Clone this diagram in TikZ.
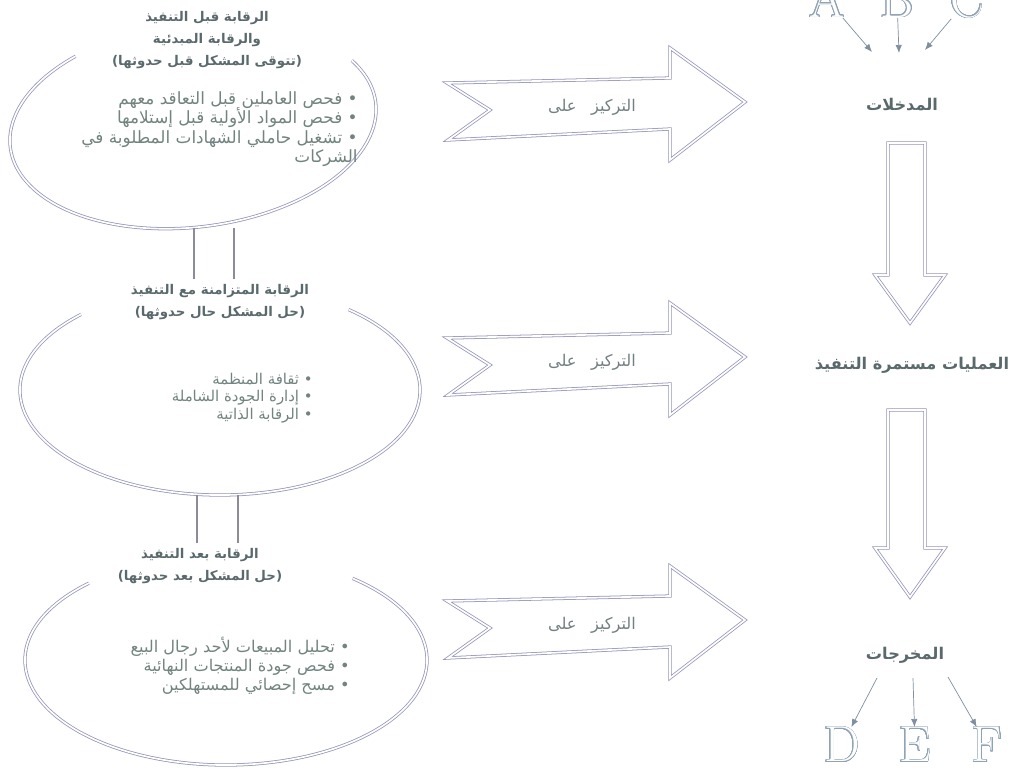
\documentclass[tikz,border=0pt]{standalone}
\usepackage{fontspec}
\usepackage{contour}
\newfontfamily\arabicfont[Script=Arabic]{DejaVu Sans}
\TeXXeTstate=1
\usetikzlibrary{arrows.meta, positioning}
\definecolor{cline}{HTML}{9494BC}
\definecolor{clink}{HTML}{8C8C98}
\definecolor{ctext}{HTML}{5A6A6C}
\definecolor{cbody}{HTML}{71847F}
\definecolor{cletter}{HTML}{8FA3B5}
\definecolor{ctip}{HTML}{7F8FA0}
\newcommand{\ar}[1]{\beginR #1\endR}
\newcommand{\bodyfont}[1]{\arabicfont\fontsize{#1}{#1}\selectfont\lineskiplimit=-20pt\relax\baselineskip=1.16\baselineskip\relax}
\contourlength{0.45pt}
\contournumber{24}
\tikzset{
  every picture/.style={line width=0.5pt},
  ring/.style={draw=cline, double=white, double distance=1.2pt, line width=0.55pt},
  blockarrow/.style={ring, line join=miter},
  link/.style={draw=clink, line width=1.2pt},
  title/.style={font=\arabicfont\bfseries\fontsize{9.5}{15.5}\selectfont, text=ctext, align=center},
  body/.style={font=\bodyfont{#1}, text=cbody, align=right, inner sep=0pt},
  body/.default=11,
  focus/.style={font=\arabicfont\fontsize{11.5}{13}\selectfont, text=ctext!85},
  stage/.style={font=\arabicfont\bfseries\fontsize{11.5}{13}\selectfont, text=ctext},
  letter/.style={font=\fontsize{36}{40}\selectfont, inner sep=0pt},
  thinarrow/.style={-{Latex[length=2mm, width=1.6mm]}, draw=ctip, line width=0.5pt},
}
\newcommand{\hollow}[1]{\contour{cletter}{\textcolor{white}{#1}}}

\begin{document}
\begin{tikzpicture}[x=0.025cm, y=-0.025cm]
  \useasboundingbox (0,0) rectangle (1013,771);
  % the three open ellipses
  \coordinate (e1) at (193,125);
  \coordinate (e2) at (220,390);
  \coordinate (e3) at (226,660);
  \draw[ring, rotate around={7:(e1)}] ([shift={(26:4.6cm and 2.55cm)}]e1) arc[start angle=26, end angle=-234, x radius=4.6cm, y radius=2.55cm];
  \draw[ring] ([shift={(50:5cm and 2.625cm)}]e2) arc[start angle=50, end angle=-226, x radius=5cm, y radius=2.625cm];
  \draw[ring] ([shift={(51:5.025cm and 2.625cm)}]e3) arc[start angle=51, end angle=-227, x radius=5.025cm, y radius=2.625cm];
  % titles
  \node[title] (t1) at (207,40) {\ar{الرقابة قبل التنفيذ}\\\ar{والرقابة المبدئية}\\\ar{(تتوقى المشكل قبل حدوثها)}};
  \node[title] (t2) at (220,302) {\ar{الرقابة المتزامنة مع التنفيذ}\\\ar{(حل المشكل حال حدوثها)}};
  \node[title] (t3) at (200,566) {\ar{الرقابة بعد التنفيذ}\\\ar{(حل المشكل بعد حدوثها)}};
  % bullet lists
  \node[body=12, anchor=north east] (b1) at (358,91) {\ar{• فحص العاملين قبل التعاقد معهم}\\\ar{• فحص المواد الأولية قبل إستلامها}\\\ar{• تشغيل حاملي الشهادات المطلوبة في}\\\ar{الشركات}};
  \node[body=10.6, anchor=north east] (b2) at (313,373) {\ar{• ثقافة المنظمة}\\\ar{• إدارة الجودة الشاملة}\\\ar{• الرقابة الذاتية}};
  \node[body=11.5, anchor=north east] (b3) at (350,637) {\ar{• تحليل المبيعات لأحد رجال البيع}\\\ar{• فحص جودة المنتجات النهائية}\\\ar{• مسح إحصائي للمستهلكين}};
  % double links between the ellipses
  \coordinate (k1) at (194,228);
  \coordinate (k2) at (234,228);
  \coordinate (k3) at (197,495);
  \coordinate (k4) at (238,495);
  \draw[link] (k1) -- (k1 |- t2.north);
  \draw[link] (k2) -- (k2 |- t2.north);
  \draw[link] (k3) -- (k3 |- t3.north);
  \draw[link] (k4) -- (k4 |- t3.north);
  % "focus on" arrows
  \foreach \dy/\nm in {0/f1, 255/f2, 518/f3} {
    \draw[blockarrow] (447,83+\dy) -- (670,78+\dy) -- (670,48+\dy) -- (745,102+\dy) -- (670,160+\dy) -- (670,129+\dy) -- (448,140+\dy) -- (490,110+\dy) -- cycle;
    \node[focus] (\nm) at (592,107+\dy) {\ar{التركيز\hspace{0.9em}على}};
  }
  % right column
  \node[stage] (in) at (902,105) {\ar{المدخلات}};
  \node[stage] (proc) at (912,365) {\ar{العمليات مستمرة التنفيذ}};
  \node[stage] (out) at (905,655) {\ar{المخرجات}};
  \draw[blockarrow] (888,143) -- (888,275) -- (875,275) -- (910,323) -- (945,275) -- (925,275) -- (925,143) -- cycle;
  \draw[blockarrow] (888,410) -- (888,548) -- (875,548) -- (910,597) -- (945,548) -- (925,548) -- (925,410) -- cycle;
  % inputs
  \node[letter, anchor=base] (A) at (827,17) {\hollow{A}};
  \node[letter, anchor=base] (B) at (897,17) {\hollow{B}};
  \node[letter, anchor=base] (C) at (967,17) {\hollow{C}};
  \coordinate (a1) at (872,52);
  \coordinate (a2) at (899,53);
  \coordinate (a3) at (925,50);
  \draw[thinarrow] (A) -- (a1);
  \draw[thinarrow] (B) -- (a2);
  \draw[thinarrow] (C) -- (a3);
  % outputs
  \node[letter, anchor=north] (D) at (842,727) {\hollow{D}};
  \node[letter, anchor=north] (E) at (915,727) {\hollow{E}};
  \node[letter, anchor=north] (F) at (987,727) {\hollow{F}};
  \coordinate (d1) at (877,678);
  \coordinate (d2) at (913,678);
  \coordinate (d3) at (948,677);
  \draw[thinarrow] (d1) -- (D);
  \draw[thinarrow] (d2) -- (E);
  \draw[thinarrow] (d3) -- (F);
\end{tikzpicture}
\end{document}
